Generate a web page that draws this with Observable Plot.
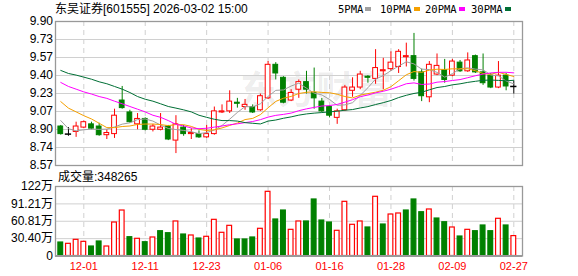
<!DOCTYPE html>
<html>
<head>
<meta charset="utf-8">
<script src="https://cdn.jsdelivr.net/npm/d3@7"></script>
<script src="https://cdn.jsdelivr.net/npm/@observablehq/plot@0.6"></script>
<style>
  html, body { margin: 0; padding: 0; background: #fff; }
  #wrap { position: relative; width: 578px; height: 276px; background: #fff; overflow: hidden;
          font-family: 'Liberation Sans', 'Noto Sans CJK SC', sans-serif; color: #000; }
  .abs { position: absolute; white-space: nowrap; }
  #title { left: 55px; top: 3px; font-size: 12px; line-height: 12px; }
  #vlabel { left: 58px; top: 171px; font-size: 12px; line-height: 12px; }
  .lg { position: absolute; top: 4px; font-family: 'DejaVu Sans Mono', monospace; font-size: 10.5px; line-height: 11px; }
  .sw { position: absolute; top: 7px; width: 6px; height: 4px; }
</style>
</head>
<body>
<div id="wrap">
  <div id="price" class="abs" style="left:0;top:0"></div>
  <div id="vol" class="abs" style="left:0;top:170px"></div>
  <div id="title" class="abs">东吴证券[601555] 2026-03-02 15:00</div>
  <div id="vlabel" class="abs">成交量:348265</div>
  <div id="legend"></div>
</div>
<script>
// ---------- data ----------
const dates = ["11-26","11-27","11-28","12-01","12-02","12-03","12-04","12-05","12-08","12-09",
  "12-10","12-11","12-12","12-15","12-16","12-17","12-18","12-19","12-22","12-23",
  "12-24","12-25","12-26","12-29","12-30","12-31","01-05","01-06","01-07","01-08",
  "01-09","01-12","01-13","01-14","01-15","01-16","01-19","01-20","01-21","01-22",
  "01-23","01-26","01-27","01-28","01-29","01-30","02-02","02-03","02-04","02-05",
  "02-06","02-09","02-10","02-11","02-12","02-13","02-24","02-25","02-26","02-27"];
const opens  = [8.93,8.86,8.88,8.92,8.95,8.93,8.85,8.86,9.17,9.06, 8.95,9.00,8.90,8.90,8.93,8.80,8.92,8.86,8.86,8.83,
                8.86,9.06,9.07,9.15,9.11,9.11,9.08,9.19,9.50,9.38, 9.17,9.27,9.34,9.24,9.16,9.11,9.01,9.08,9.26,9.29,
                9.39,9.37,9.44,9.46,9.48,9.57,9.58,9.43,9.20,9.41, 9.45,9.40,9.52,9.44,9.58,9.43,9.40,9.29,9.40,9.30];
const highs  = [8.94,8.92,8.97,8.98,8.97,8.96,8.90,9.09,9.30,9.08, 9.05,9.01,8.95,9.05,8.94,9.03,8.94,8.91,8.89,8.94,
                9.11,9.13,9.26,9.19,9.18,9.13,9.23,9.53,9.52,9.39, 9.27,9.36,9.44,9.47,9.19,9.12,9.09,9.31,9.38,9.44,
                9.40,9.64,9.56,9.62,9.64,9.70,9.79,9.46,9.53,9.60, 9.55,9.55,9.54,9.61,9.59,9.60,9.42,9.53,9.42,9.35];
const lows   = [8.85,8.84,8.83,8.91,8.90,8.84,8.81,8.82,9.09,8.96, 8.90,8.89,8.88,8.89,8.80,8.68,8.84,8.81,8.82,8.82,
                8.85,9.05,9.05,9.10,9.08,9.05,9.07,9.18,9.36,9.14, 9.16,9.19,9.23,9.09,9.06,9.01,8.95,9.07,9.20,9.27,
                9.33,9.32,9.27,9.44,9.42,9.48,9.35,9.16,9.15,9.40, 9.33,9.39,9.43,9.43,9.42,9.31,9.28,9.28,9.26,9.23];
const closes = [8.86,8.86,8.93,8.97,8.91,8.85,8.87,9.03,9.10,8.97, 9.00,8.90,8.93,8.92,8.81,8.95,8.86,8.87,8.83,8.86,
                9.07,9.07,9.16,9.14,9.13,9.06,9.21,9.50,9.42,9.15, 9.24,9.34,9.27,9.19,9.07,9.03,9.07,9.29,9.29,9.41,
                9.38,9.47,9.45,9.52,9.62,9.58,9.37,9.21,9.50,9.49, 9.36,9.53,9.44,9.54,9.43,9.33,9.29,9.40,9.30,9.30];
// volume, in 万 (10k lots)
const volumes = [23.6,21.3,28.3,24.8,16.6,25.4,16.6,58.6,79.6,32.9, 30.1,24.1,32.4,43.4,39.9,60.4,37.6,35.9,30.6,33.6,
                 63.3,40.6,52.8,28.9,28.9,32.4,47.6,112.3,63.9,79.6, 45.8,60.4,60.4,98.9,62.1,58.6,44.1,94.8,54.6,60.4,
                 49.9,103.6,55.1,72.6,74.4,79.6,98.9,76.6,81.4,65.6, 59.1,49.9,34.1,45.8,43.4,53.4,43.4,65.1,53.4,34.8265];
// moving-average values before enough visible history exists
const ma5Lead  = [8.985,8.91,8.89,8.90];
const ma10Lead = [9.16,9.10,9.065,9.03,9.00,8.96,8.92,8.92,8.93];
const ma20Lead = [9.337,9.30,9.275,9.25,9.23,9.207,9.19,9.164,9.14,9.115,9.09,9.065,9.034,9.015,8.985,8.95,8.935,8.917,8.91];
const ma30Lead = [9.448,9.42,9.405,9.386,9.367,9.343,9.325,9.30,9.275,9.244,9.207,9.182,9.164,9.14,9.115,9.10,9.084,9.065,
                  9.034,9.015,8.997,8.985,8.985,8.98,8.966,8.96,8.954,8.98,8.99];
const xLabels = ["12-01","12-11","12-23","01-06","01-16","01-28","02-09","02-27"];
const priceTickLabels = ["8.57","8.74","8.90","9.07","9.23","9.40","9.57","9.73","9.90"];
const priceDomain = [8.57, 9.90];
const volTickLabels = ["0","30.40万","60.81万","91.21万","122万"];
const volMax = 121.62;
const maNames = ["5PMA","10PMA","20PMA","30PMA"];

// ---------- derived ----------
const RED = "#ff0000", GREEN = "#008000", BLACK = "#000000";
const maColors = ["#a0a0a0", "#f5a000", "#ff00ff", "#006f35"];
function ma(n, lead) {
  return closes.map((c, i) => i < lead.length ? lead[i] : d3.mean(closes.slice(i - n + 1, i + 1)));
}
const m5 = ma(5, ma5Lead), m10 = ma(10, ma10Lead), m20 = ma(20, ma20Lead), m30 = ma(30, ma30Lead);
const rows = dates.map((d, i) => ({
  i, date: d, open: opens[i], high: highs[i], low: lows[i], close: closes[i], vol: volumes[i],
  ma5: m5[i], ma10: m10[i], ma20: m20[i], ma30: m30[i]
}));
const candleColor = d => d.close > d.open ? RED : d.close < d.open ? GREEN : BLACK;
const volUp = d => d.i === 0 ? d.close >= d.open : d.close >= closes[d.i - 1];
const labelIdx = xLabels.map(l => dates.indexOf(l));
const priceTicks = priceTickLabels.map((_, k) => priceDomain[0] + k * (priceDomain[1] - priceDomain[0]) / (priceTickLabels.length - 1));
const priceLabelOf = new Map(priceTicks.map((t, k) => [t, priceTickLabels[k]]));
const volTicks = volTickLabels.map((_, k) => k * volMax / (volTickLabels.length - 1));
const volLabelOf = new Map(volTicks.map((t, k) => [t, volTickLabels[k]]));

const FONT = "'Liberation Sans', 'Noto Sans CJK SC', sans-serif";
const xScale = {domain: [-0.686, 60.132], axis: null};
const HW = 0.31;
const style = {fontFamily: FONT, fontSize: "12px", color: "#000", background: "transparent", overflow: "visible"};
const GRID = "#d0d0d0", FRAME = "#999999";

// ---------- price panel ----------
const price = Plot.plot({
  width: 578, height: 170,
  marginLeft: 55, marginRight: 56, marginTop: 21, marginBottom: 5,
  x: xScale,
  y: {domain: priceDomain, axis: null},
  style,
  marks: [
    Plot.text(["东方财富"], {frameAnchor: "middle", dx: 27, dy: -3, fontSize: 38, fontWeight: "bold",
      fill: "#000", fillOpacity: 0.08, fontFamily: "'Noto Sans CJK SC', sans-serif"}),
    Plot.ruleY(priceTicks, {stroke: GRID}),
    Plot.ruleX(labelIdx, {stroke: GRID, strokeDasharray: "5,4"}),
    Plot.frame({stroke: FRAME, strokeWidth: 1.3}),
    Plot.ruleX(rows, {x: "i", y1: "low", y2: "high", stroke: candleColor, strokeWidth: 1}),
    Plot.rect(rows.filter(d => d.open !== d.close), {
      x1: d => d.i - HW, x2: d => d.i + HW, y1: "open", y2: "close",
      fill: d => d.close > d.open ? "#ffffff" : GREEN, stroke: candleColor, strokeWidth: 1
    }),
    Plot.ruleY(rows.filter(d => d.open === d.close), {
      y: "close", x1: d => d.i - HW - 0.1, x2: d => d.i + HW + 0.1, stroke: BLACK, strokeWidth: 1.5
    }),
    Plot.line(rows, {x: "i", y: "ma5", stroke: maColors[0], strokeWidth: 1}),
    Plot.line(rows, {x: "i", y: "ma10", stroke: maColors[1], strokeWidth: 1}),
    Plot.line(rows, {x: "i", y: "ma20", stroke: maColors[2], strokeWidth: 1}),
    Plot.line(rows, {x: "i", y: "ma30", stroke: maColors[3], strokeWidth: 1}),
    Plot.axisY(priceTicks, {tickSize: 0, tickPadding: 2.5, tickFormat: d => priceLabelOf.get(d),
      fontSize: 12, fill: "#000", label: null})
  ]
});
document.getElementById("price").appendChild(price);

// ---------- volume panel ----------
const vol = Plot.plot({
  width: 578, height: 106,
  marginLeft: 55, marginRight: 56, marginTop: 16, marginBottom: 20.5,
  x: xScale,
  y: {domain: [0, volMax], axis: null},
  style,
  marks: [
    Plot.ruleY(volTicks.slice(1, -1), {stroke: GRID}),
    Plot.ruleX(labelIdx, {stroke: GRID, strokeDasharray: "5,4"}),
    Plot.frame({stroke: FRAME, strokeWidth: 1.3}),
    Plot.rect(rows, {
      x1: d => d.i - HW, x2: d => d.i + HW, y1: 0, y2: "vol",
      fill: d => volUp(d) ? "#ffffff" : GREEN, stroke: d => volUp(d) ? RED : GREEN, strokeWidth: 1.2
    }),
    Plot.ruleY([0], {stroke: FRAME, strokeWidth: 2}),
    Plot.axisY(volTicks, {tickSize: 0, tickPadding: 2.5, tickFormat: d => volLabelOf.get(d),
      fontSize: 12, fill: "#000", label: null}),
    Plot.axisX(labelIdx, {tickSize: 0, tickPadding: 6, tickFormat: i => dates[i],
      fontSize: 11, fill: RED, label: null})
  ]
});
document.getElementById("vol").appendChild(vol);

// ---------- legend ----------
const legendLeft = [338, 380, 425, 471];
const legend = document.getElementById("legend");
maNames.forEach((name, k) => {
  const t = document.createElement("div");
  t.className = "lg"; t.textContent = name; t.style.left = legendLeft[k] + "px";
  legend.appendChild(t);
  const s = document.createElement("div");
  s.className = "sw"; s.style.background = maColors[k];
  legend.appendChild(s);
  requestAnimationFrame(() => {});
  s.style.left = (legendLeft[k] + t.getBoundingClientRect().width + 2) + "px";
});
</script>
</body>
</html>
